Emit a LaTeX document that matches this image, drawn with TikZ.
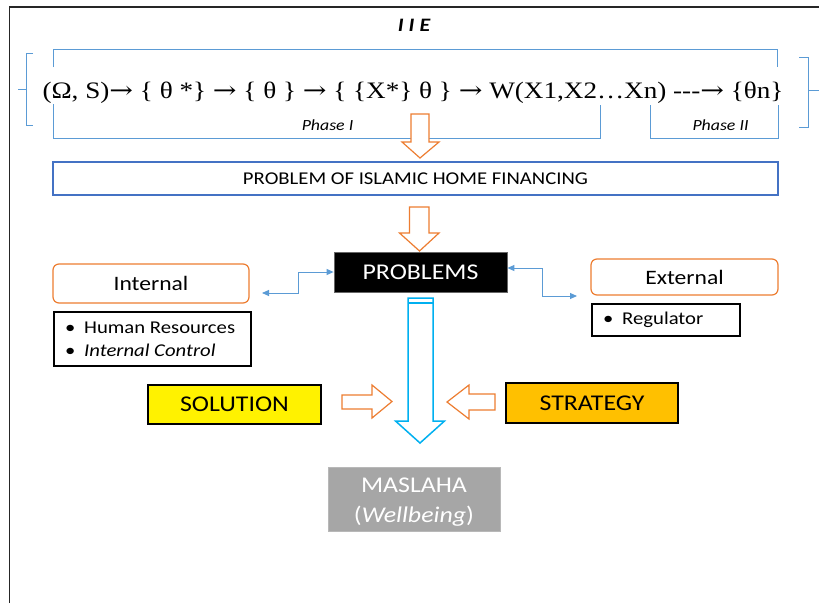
\documentclass[tikz,border=0pt]{standalone}
\usepackage{fontspec}
\setmainfont{Carlito}[FakeStretch=1.15]
\newfontfamily\fml{Liberation Serif}[FakeStretch=1.15]
\newfontfamily\arrfont{DejaVu Serif}[FakeStretch=1.2]
\usetikzlibrary{arrows.meta,calc}
\definecolor{lblue}{HTML}{5B9BD5}
\definecolor{dblue}{HTML}{4472C4}
\definecolor{borange}{HTML}{ED7D31}
\definecolor{cyanb}{HTML}{00B0F0}
\definecolor{gold}{HTML}{FFC000}
\definecolor{mgray}{HTML}{A6A6A6}
\newcommand{\ra}{{\arrfont →}}
\begin{document}
\begin{tikzpicture}[x=1pt,y=-1pt,
  brk/.style={draw=lblue,line width=0.9pt},
  harrow/.style={draw=borange,fill=white,line width=1.2pt,line join=miter},
  barrow/.style={draw=cyanb,fill=white,line width=1.5pt,line join=miter},
  conn/.style={draw=lblue,line width=1pt,{Triangle[length=7pt,width=6pt]}-{Triangle[length=7pt,width=6pt]}},
  rbox/.style={draw=borange,line width=1.2pt,rounded corners=6pt,inner sep=0pt},
  lbox/.style={draw=black,line width=1.2pt,inner sep=0pt},
  fbox/.style={draw=black,line width=1.2pt,inner sep=0pt},
  ltext/.style={anchor=west,align=left,inner sep=0pt,font=\fontsize{18}{23}\selectfont}]
\useasboundingbox (0,0) rectangle (819,603);
\fill[white] (0,0) rectangle (819,603);
% outer frame
\draw[line width=1.3pt,black!85] (9.5,603) -- (9.5,7) -- (819,7);
% title
\node[font=\fontsize{19}{22}\selectfont\bfseries\itshape,anchor=base] (title) at (414,31) {I\hspace{5pt}I\hspace{5pt}E};
% brackets
\draw[brk] (53,67) -- (53,49) -- (777,49) -- (777,67);
\draw[brk] (53,104) -- (53,138) -- (600,138) -- (600,105);
\draw[brk] (650,105) -- (650,138) -- (778,138) -- (778,105);
\draw[brk] (33,53) -- (26,53) -- (26,125) -- (33,125);
\draw[brk] (18,89) -- (26,89);
\draw[brk] (799,57) -- (808,57) -- (808,127) -- (799,127);
\draw[brk] (808,90) -- (819,90);
% formula
\node[font=\fml\fontsize{23.6}{26}\selectfont,anchor=base,inner sep=0pt] (formula) at (413,98)
  {(Ω, S)\ra{} \{ θ *\} \ra{} \{ θ \} \ra{} \{ \{X*\} θ \} \ra{} W(X1,X2…Xn) -{}-{}-\ra{} \{θn\}};
\node[font=\fontsize{15.5}{18}\selectfont\itshape,anchor=base] (ph1) at (327.5,130) {Phase I};
\node[font=\fontsize{15.5}{18}\selectfont\itshape,anchor=base] (ph2) at (720.5,130) {Phase II};
% arrow 1
\draw[harrow] (411,114) -- (429,114) -- (429,142) -- (439,142) -- (420,158) -- (402,142) -- (411,142) -- cycle;
% problem of islamic home financing
\node[draw=dblue,line width=1.1pt,minimum width=725pt,minimum height=33pt,inner sep=0pt,
  font=\fontsize{18}{20}\selectfont] (pf) at (415.5,178.5) {PROBLEM OF ISLAMIC HOME FINANCING};
% arrow 2
\draw[harrow] (409.5,207) -- (429,207) -- (429,233) -- (439,233) -- (419.5,251) -- (399.5,233) -- (409.5,233) -- cycle;
% problems
\node[fill=black,draw=black!60,line width=0.8pt,minimum width=173pt,minimum height=40pt,inner sep=0pt,
  text=white,font=\fontsize{22.5}{24}\selectfont] (probs) at (420.5,272) {PROBLEMS};
\node[rbox,minimum width=196pt,minimum height=39pt,font=\fontsize{20.5}{22}\selectfont] (int) at (151,283.5) {Internal};
\node[rbox,minimum width=187pt,minimum height=36pt,font=\fontsize{20.5}{22}\selectfont] (ext) at (684.5,277) {External};
\node[lbox,minimum width=197pt,minimum height=54pt] (intl) at (152.5,339) {};
\node[ltext] (intlt) at (65,339.5)
  {\makebox[19pt][l]{\textbullet}Human Resources\\\makebox[19pt][l]{\textbullet}\textit{Internal Control}};
\node[lbox,minimum width=148pt,minimum height=32pt] (reg) at (666,320) {};
\node[ltext] (regt) at (603,320) {\makebox[19pt][l]{\textbullet}Regulator};
% connectors
\coordinate (cl) at (262,293);
\coordinate (cr) at (577,296);
\draw[conn] (cl) -- (298,293) |- (probs.west);
\draw[conn] ([yshift=4pt]probs.east) -| (542,296) -- (cr);
% blue arrow
\draw[barrow] (408,298) -- (433,298) -- (433,421) -- (444.5,421) -- (420,443) -- (395.5,421) -- (408,421) -- cycle;
\draw[draw=cyanb,line width=1.5pt] (408,303) -- (433,303);
% solution / strategy
\node[fbox,fill=yellow,minimum width=173pt,minimum height=39pt,font=\fontsize{22.5}{24}\selectfont] (sol) at (234.5,404.5) {SOLUTION};
\node[fbox,fill=gold,minimum width=172pt,minimum height=40pt,font=\fontsize{22.5}{24}\selectfont] (str) at (592,403) {STRATEGY};
\draw[harrow] (342,395) -- (372,395) -- (372,385) -- (392,401.5) -- (372,418) -- (372,409) -- (342,409) -- cycle;
\draw[harrow] (495,394) -- (469,394) -- (469,385) -- (447,402) -- (469,419) -- (469,410) -- (495,410) -- cycle;
% maslaha
\node[fill=mgray,draw=mgray!80,line width=0.6pt,minimum width=172pt,minimum height=64pt,inner sep=0pt] (mas) at (414,499) {};
\node[text=white,align=center,inner sep=0pt,font=\fontsize{22.5}{30}\selectfont] (mast) at (414,502) {MASLAHA\\(\textit{Wellbeing})};
\end{tikzpicture}
\end{document}
